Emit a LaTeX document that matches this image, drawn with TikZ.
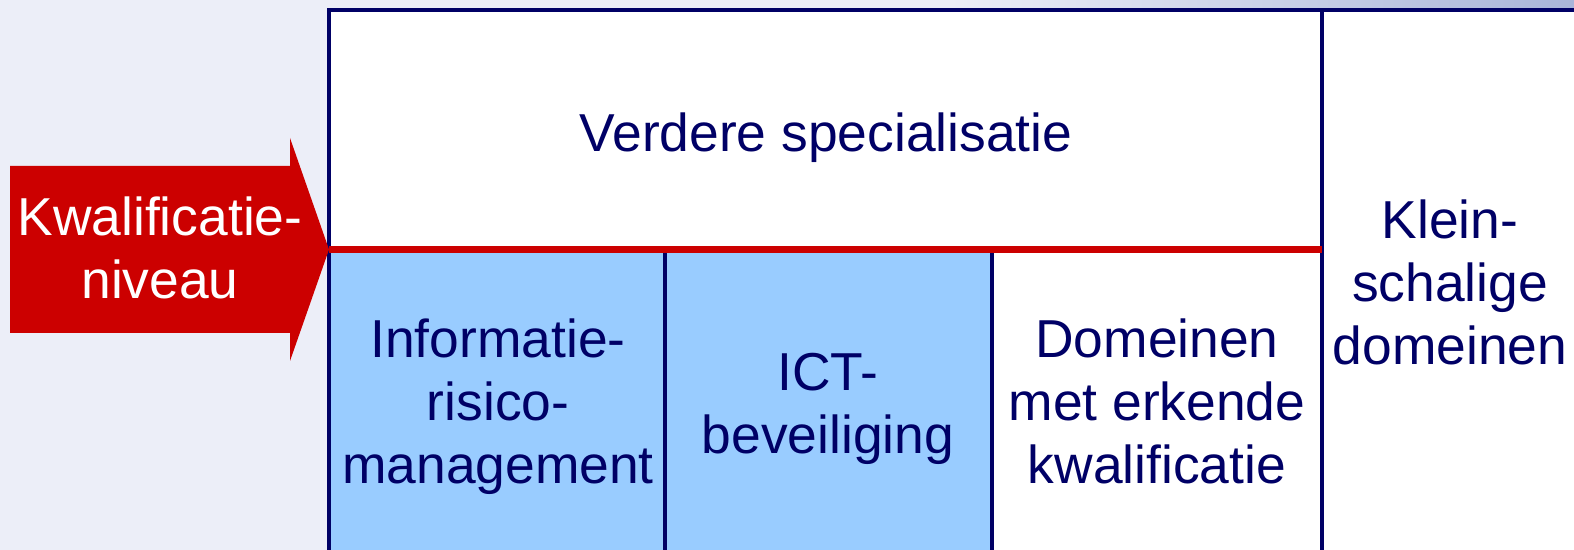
\documentclass[tikz,border=0pt]{standalone}
\usepackage{fontspec}
\setmainfont{Liberation Sans}
\usetikzlibrary{positioning}
\definecolor{navy}{HTML}{000066}
\definecolor{cellblue}{HTML}{99CCFF}
\definecolor{arrowred}{HTML}{CC0000}
\definecolor{slide}{HTML}{ECEEF8}
\definecolor{slidedark}{HTML}{A9B5D9}
\tikzset{
  txt/.style  ={font=\fontsize{26.7}{31.5}\selectfont, align=center, text=navy, inner sep=0pt},
  lbl/.style  ={txt, text=white},
  grid/.style ={draw=navy, line width=2pt},
  split/.style={draw=arrowred, line width=3.5pt},
}
\begin{document}
\begin{tikzpicture}[x=0.5pt, y=-0.5pt]
  \useasboundingbox (0,0) rectangle (1574,550);
  % slide background
  \fill[slide] (0,0) rectangle (1574,550);
  \shade[left color=slide, right color=slidedark] (950,0) rectangle (1574,12);
  % cells
  \fill[white] (329,10) rectangle (1600,560);
  \fill[cellblue] (329,249) rectangle (992,560);
  % grid
  \draw[grid] (329,560) -- (329,10) -- (1600,10);
  \draw[grid] (1322,10) -- (1322,560);
  \foreach \x in {665,992}
    \draw[grid] (\x,249) -- (\x,560);
  \draw[split] (329,249.5) -- (1322,249.5);
  % arrow
  \fill[arrowred] (10,166) -- (290,166) -- (290,138) -- (329,249.5)
    -- (290,361) -- (290,333) -- (10,333) -- cycle;
  % texts
  \node[lbl] (kwalniv) at (160,248) {Kwalificatie-\\niveau};
  \node[txt] (verdere) at (826,137.5) {Verdere specialisatie};
  \node[txt] (inforisk) at (498,406.5) {Informatie-\\risico-\\management};
  \node[txt] (ictsec) at (828,408.5) {ICT-\\beveiliging};
  \node[txt] (erkend) at (1157,401.5) {Domeinen\\met erkende\\kwalificatie};
  \node[txt] (kleinsch) at (1450,282.5) {Klein-\\schalige\\domeinen};
\end{tikzpicture}
\end{document}
